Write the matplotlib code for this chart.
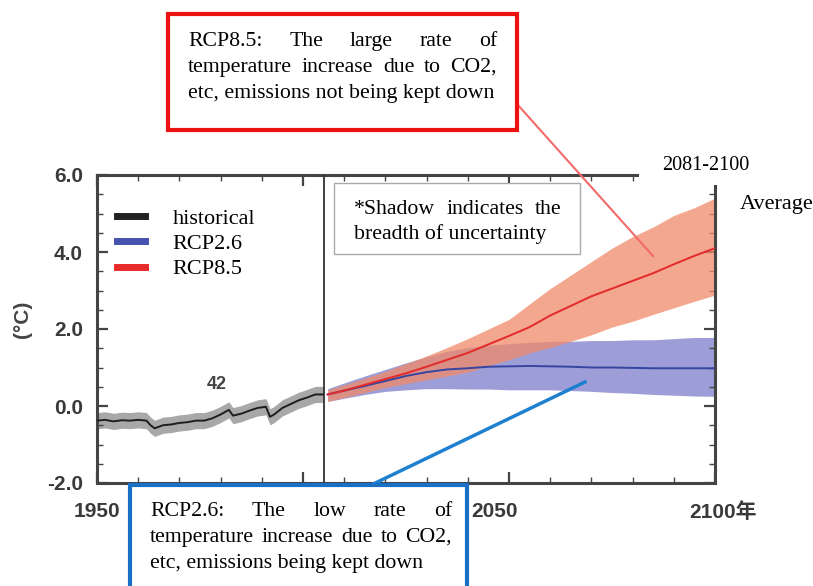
import matplotlib
matplotlib.use("Agg")
import numpy as np
import matplotlib.pyplot as plt
import matplotlib.transforms as mtransforms
from matplotlib.patches import Rectangle
from matplotlib.lines import Line2D
from matplotlib.ticker import MultipleLocator

# 観測（historical）
hist_years = [1950, 1952, 1954, 1956, 1958, 1960, 1962, 1963, 1964, 1966, 1968, 1970,
              1972, 1974, 1976, 1978, 1980, 1982, 1983, 1985, 1987, 1989, 1991, 1992,
              1993, 1995, 1997, 1999, 2001, 2003, 2005]
hist_mean = [-0.38, -0.36, -0.40, -0.37, -0.38, -0.36, -0.38, -0.50, -0.58, -0.50, -0.48, -0.44,
             -0.42, -0.38, -0.38, -0.32, -0.22, -0.10, -0.25, -0.20, -0.12, -0.05, -0.02, -0.28,
             -0.22, -0.05, 0.05, 0.15, 0.22, 0.30, 0.30]
hist_spread = 0.21

# シナリオ
rcp_years = [2006, 2010, 2015, 2020, 2025, 2030, 2035, 2040, 2045, 2050,
             2055, 2060, 2065, 2070, 2075, 2080, 2085, 2090, 2095, 2100]
rcp85_mean = [0.30, 0.40, 0.55, 0.70, 0.85, 1.02, 1.20, 1.38, 1.60, 1.82,
              2.05, 2.35, 2.60, 2.85, 3.05, 3.25, 3.45, 3.68, 3.90, 4.10]
rcp85_hi = [0.42, 0.55, 0.72, 0.90, 1.10, 1.30, 1.52, 1.75, 2.00, 2.25,
            2.65, 3.05, 3.40, 3.75, 4.10, 4.40, 4.65, 4.95, 5.15, 5.40]
rcp85_lo = [0.12, 0.22, 0.35, 0.48, 0.58, 0.68, 0.78, 0.88, 1.05, 1.20,
            1.38, 1.52, 1.68, 1.85, 2.05, 2.20, 2.38, 2.55, 2.72, 2.88]
rcp26_mean = [0.30, 0.40, 0.52, 0.65, 0.78, 0.88, 0.95, 0.98, 1.02, 1.03,
              1.04, 1.03, 1.02, 1.00, 1.00, 0.99, 0.98, 0.98, 0.98, 0.98]
rcp26_hi = [0.45, 0.60, 0.78, 0.95, 1.12, 1.28, 1.42, 1.52, 1.58, 1.62,
            1.65, 1.68, 1.68, 1.70, 1.70, 1.72, 1.72, 1.75, 1.78, 1.78]
rcp26_lo = [0.12, 0.20, 0.30, 0.38, 0.42, 0.45, 0.45, 0.44, 0.44, 0.42,
            0.42, 0.42, 0.40, 0.38, 0.35, 0.33, 0.30, 0.28, 0.26, 0.25]

xtick_vals = [1950, 2000, 2050, 2100]
xtick_labels = ["1950", "", "2050", "2100年"]   # 2000 は下の枠に隠れている
ytick_vals = [-2.0, 0.0, 2.0, 4.0, 6.0]

W, H = 813, 586
fig = plt.figure(figsize=(W / 100, H / 100), dpi=100)


def px(x, y):
    return x / W, 1 - y / H


ax = fig.add_axes([97 / W, 1 - 483 / H, (715 - 97) / W, (483 - 175) / H])

hy = np.array(hist_years)
hm = np.array(hist_mean)
ax.fill_between(hy, hm - hist_spread, hm + hist_spread, color="#a8a8a8", lw=0, zorder=1)
ax.plot(hy, hm, color="#1e1e1e", lw=1.4, zorder=3)

ax.fill_between(rcp_years, rcp26_lo, rcp26_hi, color="#8c8cd0", alpha=0.85, lw=0, zorder=1)
ax.fill_between(rcp_years, rcp85_lo, rcp85_hi, color="#f08a68", alpha=0.75, lw=0, zorder=2)
ax.plot(rcp_years, rcp26_mean, color="#3545a0", lw=1.4, zorder=3)
ax.plot(rcp_years, rcp85_mean, color="#e32a2a", lw=1.4, zorder=4)

ax.axvline(2005, color="#333333", lw=1.3, zorder=5)

ax.set_xlim(1950, 2100)
ax.set_ylim(-2, 6)
ax.set_xticks(xtick_vals)
ax.set_xticklabels(xtick_labels)
ax.set_yticks(ytick_vals)
ax.set_yticklabels([f"{v:.1f}" for v in ytick_vals])
ax.xaxis.set_minor_locator(MultipleLocator(10))
ax.yaxis.set_minor_locator(MultipleLocator(0.5))
ax.tick_params(which="both", direction="in", top=True, right=True, color="#444444")
ax.tick_params(which="major", length=8, width=1.6)
ax.tick_params(which="minor", length=4, width=1.0)
ax.tick_params(axis="y", pad=10)
ax.tick_params(axis="x", pad=14)
for lab in ax.get_xticklabels() + ax.get_yticklabels():
    lab.set_family(["Liberation Sans", "Noto Sans CJK JP"])
    lab.set_fontweight("bold")
    lab.set_fontsize(15)
    lab.set_color("#3a3a3a")

for s in ax.spines.values():
    s.set_color("#444444")
    s.set_linewidth(2.2)
ax.spines["top"].set_bounds(1950, 2081)
ax.spines["right"].set_bounds(-2, 5.72)

fig.canvas.draw()
for t, loc in zip(ax.xaxis.get_major_ticks() + ax.xaxis.get_minor_ticks(),
                  list(ax.xaxis.get_majorticklocs()) + list(ax.xaxis.get_minorticklocs())):
    if loc > 2081:
        t.tick2line.set_visible(False)
for t, loc in zip(ax.yaxis.get_major_ticks() + ax.yaxis.get_minor_ticks(),
                  list(ax.yaxis.get_majorticklocs()) + list(ax.yaxis.get_minorticklocs())):
    if loc > 5.72:
        t.tick2line.set_visible(False)

# 元図の年ラベルは少しずれている
xlabs = ax.get_xticklabels()
xlabs[2].set_transform(xlabs[2].get_transform()
                       + mtransforms.ScaledTranslation(-0.14, 0, fig.dpi_scale_trans))
xlabs[3].set_transform(xlabs[3].get_transform()
                       + mtransforms.ScaledTranslation(0.08, 0, fig.dpi_scale_trans))

ax.set_ylabel("(°C)", fontsize=15, fontweight="bold", color="#444444", family="Liberation Sans")
ax.yaxis.set_label_coords(-0.105, 0.53)

ax.text(1979, 0.55, "42", fontsize=13, fontweight="bold", color="#444444",
        family="Liberation Sans", ha="center", va="center")

handles = [Line2D([], [], color="#222222", lw=5),
           Line2D([], [], color="#4552b0", lw=5),
           Line2D([], [], color="#e82a2a", lw=5)]
ax.legend(handles, ["historical", "RCP2.6", "RCP8.5"], loc="upper left",
          bbox_to_anchor=px(117, 208), bbox_transform=fig.transFigure,
          frameon=False, prop={"family": "Liberation Serif", "size": 16},
          handlelength=1.25, handletextpad=1.25, labelspacing=0.22,
          borderpad=0, borderaxespad=0)

serif = "Liberation Serif"
renderer = fig.canvas.get_renderer()


def justified(x0, base0, width, lines, size, lh):
    # 両端揃え（最終行は左揃え）
    for i, line in enumerate(lines):
        y = base0 + i * lh
        words = line.split()
        if i == len(lines) - 1 or len(words) == 1:
            fig.text(*px(x0, y), line, family=serif, fontsize=size, va="baseline",
                     ha="left", zorder=12)
            continue
        ts = [fig.text(*px(0, y), w, family=serif, fontsize=size, va="baseline",
                       ha="left", zorder=12) for w in words]
        ws = [t.get_window_extent(renderer).width for t in ts]
        gap = (width - sum(ws)) / (len(words) - 1)
        x = x0
        for t, w in zip(ts, ws):
            t.set_x(x / W)
            x += w + gap


# red box
fig.add_artist(Rectangle(px(168, 130), (517 - 168) / W, (130 - 14) / H, transform=fig.transFigure,
                         facecolor="white", edgecolor="#ee1111", lw=3, zorder=10))
justified(188, 46, 309, ["RCP8.5: The large rate of",
                         "temperature increase due to CO2,",
                         "etc, emissions not being kept down"], 15.7, 26)
fig.add_artist(Line2D([517 / W, 653 / W], [1 - 104 / H, 1 - 256 / H], transform=fig.transFigure,
                      color="#f26a6a", lw=1.5, zorder=9))

# shadow box
fig.add_artist(Rectangle(px(334, 254), (580 - 334) / W, (254 - 183) / H, transform=fig.transFigure,
                         facecolor="white", edgecolor="#aaaaaa", lw=1.0, zorder=10))
justified(354, 214, 207, ["*Shadow indicates the",
                          "breadth of uncertainty"], 15.7, 25)

# 2081-2100 average
fig.text(*px(662, 170), "2081-2100", family=serif, fontsize=14.5, va="baseline")
fig.text(*px(740, 209), "Average", family=serif, fontsize=16, va="baseline")

# blue box
fig.add_artist(Line2D([367 / W, 585 / W], [1 - 487 / H, 1 - 382 / H], transform=fig.transFigure,
                      color="#1f80d0", lw=2.5, zorder=9))
fig.add_artist(Rectangle(px(130, 600), (467 - 130) / W, (600 - 485) / H, transform=fig.transFigure,
                         facecolor="white", edgecolor="#1a70c4", lw=3, zorder=10))
justified(150, 516, 302, ["RCP2.6: The low rate of",
                          "temperature increase due to CO2,",
                          "etc, emissions being kept down"], 15.7, 26)

fig.savefig("out.png", dpi=100)
